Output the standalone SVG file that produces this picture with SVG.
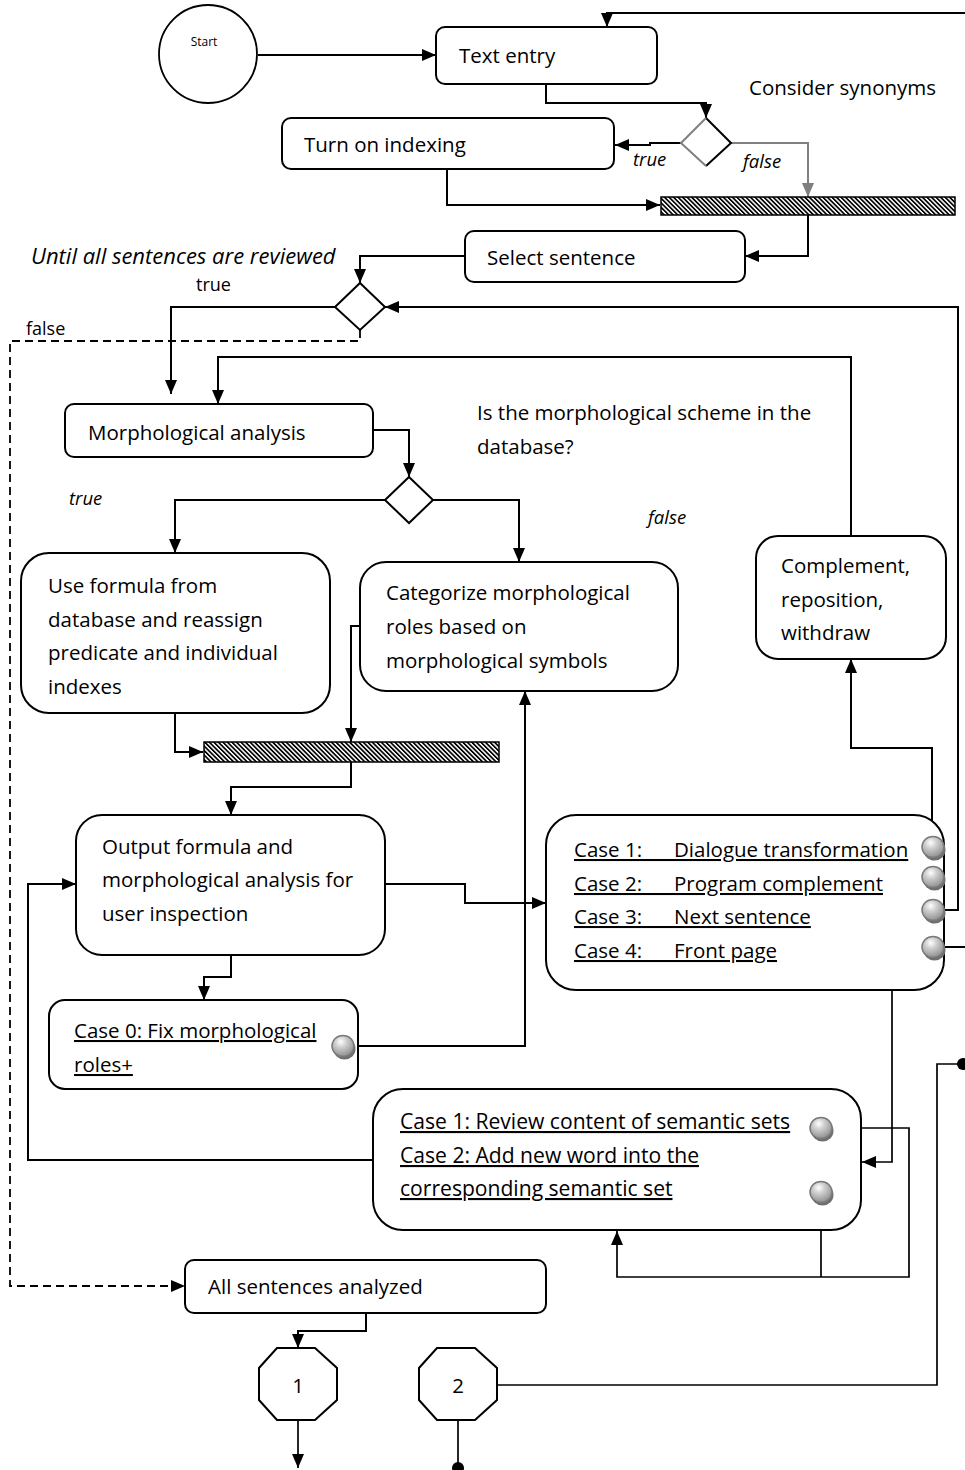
<svg xmlns="http://www.w3.org/2000/svg" xmlns:xlink="http://www.w3.org/1999/xlink" width="965" height="1470" viewBox="0 0 965 1470">
  <style>
    .box { fill: #fff; stroke: #000; stroke-width: 2; }
    .t { font-family: "Open Sans", "Liberation Sans", sans-serif; font-size: 20.5px; fill: #000; }
    .t21 { font-size: 21.1px; }
    .it { font-family: "Open Sans", "Liberation Sans", sans-serif; font-size: 18.5px; font-style: italic; fill: #000; }
    .it-big { font-family: "Open Sans", "Liberation Sans", sans-serif; font-size: 22px; font-style: italic; fill: #000; }
    .sm { font-family: "Open Sans", "Liberation Sans", sans-serif; font-size: 18px; fill: #000; }
    .u { text-decoration: underline; text-decoration-thickness: 2px; }
    .ln { fill: none; stroke: #000; stroke-width: 2; }
    .thin { fill: none; stroke: #000; stroke-width: 1.7; }
    .arr { marker-end: url(#arr); }
    .dash { fill: none; stroke: #000; stroke-width: 1.8; stroke-dasharray: 8 5; }
    .grey { fill: none; stroke: #808080; stroke-width: 2; marker-end: url(#arrGrey); }
    .bar { fill: url(#hatch); stroke: #000; stroke-width: 1.5; }
    .oct { fill: #fff; stroke: #000; stroke-width: 2; }
  </style>
  <defs>
    <marker id="arr" viewBox="0 0 14 12" refX="14" refY="6" markerWidth="14" markerHeight="12" markerUnits="userSpaceOnUse" orient="auto">
      <path d="M0,0 L14,6 L0,12 z" fill="#000"/>
    </marker>
    <marker id="arrGrey" viewBox="0 0 14 12" refX="14" refY="6" markerWidth="14" markerHeight="12" markerUnits="userSpaceOnUse" orient="auto">
      <path d="M0,0 L14,6 L0,12 z" fill="#808080"/>
    </marker>
    <pattern id="hatch" width="3.2" height="3.2" patternUnits="userSpaceOnUse" patternTransform="rotate(-45)">
      <rect width="3.2" height="3.2" fill="#fff"/>
      <rect width="1.7" height="3.2" fill="#000"/>
    </pattern>
    <radialGradient id="ballGrad" cx="40%" cy="30%" r="75%">
      <stop offset="0" stop-color="#ffffff"/>
      <stop offset="0.35" stop-color="#cfcfcf"/>
      <stop offset="1" stop-color="#8a8a8a"/>
    </radialGradient>
    <g id="bullet">
      <ellipse cx="1.5" cy="3" rx="11" ry="10.5" fill="#6f6f6f"/>
      <ellipse cx="0" cy="0" rx="11" ry="10.5" fill="url(#ballGrad)" stroke="#7a7a7a" stroke-width="1.5"/>
    </g>
  </defs>

  <!-- connectors -->
  <g id="connectors">
    <path class="ln arr" d="M258,55 H436"/>
    <path class="ln arr" d="M965,13 H607 V27"/>
    <path class="ln arr" d="M546,84 V103 H706 V118"/>
    <path class="ln arr" d="M681,143 H650 V145 H615"/>
    <path class="grey" d="M731,143 H808 V197"/>
    <path class="ln arr" d="M447,168 V205 H660"/>
    <path class="ln arr" d="M808,215 V256 H745"/>
    <path class="ln arr" d="M465,256 H360 V283"/>
    <path class="ln arr" d="M335,307 H171 V394"/>
    <path class="dash arr" d="M360,330 V341 H10 V1286 H185"/>
    <path class="ln arr" d="M944,910 H958 V307 H385"/>
    <path class="ln arr" d="M851,536 V357 H218 V404"/>
    <path class="ln arr" d="M373,430 H409 V477"/>
    <path class="ln arr" d="M385,500 H175 V553"/>
    <path class="ln arr" d="M433,500 H519 V562"/>
    <path class="ln arr" d="M360,626 H351 V742"/>
    <path class="ln arr" d="M175,713 V752 H203"/>
    <path class="ln arr" d="M351,762 V787 H231 V815"/>
    <path class="ln arr" d="M385,884 H465 V903 H546"/>
    <path class="ln arr" d="M231,955 V977 H204 V1000"/>
    <path class="ln arr" d="M354,1046 H525 V691"/>
    <path class="ln arr" d="M373,1160 H28 V884 H76"/>
    <path class="ln arr" d="M932,836 V748 H851 V659"/>
    <path class="thin arr" d="M922,877 H892 V1162 H862"/>
    <path class="ln" d="M944,947 H965"/>
    <path class="thin arr" d="M832,1128 H909 V1277 H617 V1231"/>
    <path class="thin" d="M821,1203 V1277"/>
    <path class="thin" d="M963,1064 H937 V1385 H497"/>
    <circle cx="963" cy="1064" r="6" fill="#000"/>
    <path class="ln arr" d="M366,1313 V1331 H298 V1348"/>
    <path class="thin arr" d="M298,1420 V1468"/>
    <path class="thin" d="M458,1420 V1466"/>
    <circle cx="458" cy="1468" r="6" fill="#000"/>
  </g>

  <!-- nodes -->
  <g id="start">
    <circle cx="208" cy="54" r="49" fill="#fff" stroke="#000" stroke-width="1.8"/>
    <text x="204" y="46" text-anchor="middle" font-family="Open Sans, Liberation Sans, sans-serif" font-size="12">Start</text>
  </g>

  <g id="text-entry">
    <rect class="box" x="436" y="27" width="221" height="57" rx="9"/>
    <text class="t" x="459" y="63">Text entry</text>
  </g>

  <g id="note-synonyms">
    <text class="t" x="749" y="95">Consider synonyms</text>
  </g>

  <g id="decision-synonyms">
    <polygon points="706,118 731,143 706,166 681,143" fill="#fff" stroke="none"/>
    <path d="M706,118 L731,143 L706,166" fill="none" stroke="#000" stroke-width="2"/>
    <path d="M706,118 L681,143 L706,166" fill="none" stroke="#7f7f7f" stroke-width="2"/>
    <text class="it" x="633" y="166">true</text>
    <text class="it" x="743" y="168">false</text>
  </g>

  <g id="turn-on-indexing">
    <rect class="box" x="282" y="118" width="332" height="51" rx="9"/>
    <text class="t" x="304" y="152">Turn on indexing</text>
  </g>

  <g id="join-top">
    <rect class="bar" x="661" y="197" width="294" height="18"/>
  </g>

  <g id="select-sentence">
    <rect class="box" x="465" y="231" width="280" height="51" rx="9"/>
    <text class="t" x="487" y="265">Select sentence</text>
  </g>

  <g id="decision-sentences">
    <text class="it-big" x="31" y="264">Until all sentences are reviewed</text>
    <polygon points="360,283 385,307 360,330 335,307" fill="#fff" stroke="#000" stroke-width="2"/>
    <text class="sm" x="196" y="291">true</text>
    <text class="sm" x="26" y="335">false</text>
  </g>

  <g id="morphological-analysis">
    <rect class="box" x="65" y="404" width="308" height="53" rx="9"/>
    <text class="t" x="88" y="440">Morphological analysis</text>
  </g>

  <g id="decision-scheme">
    <text class="t" x="477" y="420">Is the morphological scheme in the</text>
    <text class="t" x="477" y="454">database?</text>
    <polygon points="409,477 433,500 409,523 385,500" fill="#fff" stroke="#000" stroke-width="2"/>
    <text class="it" x="69" y="505">true</text>
    <text class="it" x="648" y="524">false</text>
  </g>

  <g id="use-formula">
    <rect class="box" x="21" y="553" width="309" height="160" rx="28"/>
    <text class="t" x="48" y="593">Use formula from</text>
    <text class="t" x="48" y="627">database and reassign</text>
    <text class="t" x="48" y="660">predicate and individual</text>
    <text class="t" x="48" y="694">indexes</text>
  </g>

  <g id="categorize">
    <rect class="box" x="360" y="562" width="318" height="129" rx="26"/>
    <text class="t" x="386" y="600">Categorize morphological</text>
    <text class="t" x="386" y="634">roles based on</text>
    <text class="t" x="386" y="668">morphological symbols</text>
  </g>

  <g id="complement">
    <rect class="box" x="756" y="536" width="190" height="123" rx="22"/>
    <text class="t" x="781" y="573">Complement,</text>
    <text class="t" x="781" y="607">reposition,</text>
    <text class="t" x="781" y="640">withdraw</text>
  </g>

  <g id="join-middle">
    <rect class="bar" x="204" y="742" width="295" height="20"/>
  </g>

  <g id="output">
    <rect class="box" x="76" y="815" width="309" height="140" rx="26"/>
    <text class="t" x="102" y="854">Output formula and</text>
    <text class="t" x="102" y="887">morphological analysis for</text>
    <text class="t" x="102" y="921">user inspection</text>
  </g>

  <g id="cases-dialogue">
    <rect class="box" x="546" y="815" width="398" height="175" rx="30"/>
    <text class="t u" x="574" y="857" xml:space="preserve">Case 1:      Dialogue transformation</text>
    <text class="t u" x="574" y="891" xml:space="preserve">Case 2:      Program complement</text>
    <text class="t u" x="574" y="924" xml:space="preserve">Case 3:      Next sentence</text>
    <text class="t u" x="574" y="958" xml:space="preserve">Case 4:      Front page</text>
    <use xlink:href="#bullet" x="933" y="847"/>
    <use xlink:href="#bullet" x="933" y="877"/>
    <use xlink:href="#bullet" x="933" y="910"/>
    <use xlink:href="#bullet" x="933" y="947"/>
  </g>

  <g id="case-fix-roles">
    <rect class="box" x="49" y="1000" width="309" height="89" rx="16"/>
    <text class="t u" x="74" y="1038">Case 0: Fix morphological</text>
    <text class="t u" x="74" y="1072">roles+</text>
    <use xlink:href="#bullet" x="343" y="1046"/>
  </g>

  <g id="cases-semantic">
    <rect class="box" x="373" y="1089" width="488" height="141" rx="30"/>
    <text class="t t21 u" x="400" y="1129">Case 1: Review content of semantic sets</text>
    <text class="t t21 u" x="400" y="1163">Case 2: Add new word into the</text>
    <text class="t t21 u" x="400" y="1196">corresponding semantic set</text>
    <use xlink:href="#bullet" x="821" y="1128"/>
    <use xlink:href="#bullet" x="821" y="1192"/>
  </g>

  <g id="all-analyzed">
    <rect class="box" x="185" y="1260" width="361" height="53" rx="9"/>
    <text class="t" x="208" y="1294">All sentences analyzed</text>
  </g>

  <g id="connector-1">
    <polygon class="oct" points="277,1348 315,1348 337,1368 337,1400 315,1420 277,1420 259,1400 259,1368"/>
    <text class="t" x="298" y="1393" text-anchor="middle" font-size="22">1</text>
  </g>

  <g id="connector-2">
    <polygon class="oct" points="437,1348 475,1348 497,1368 497,1400 475,1420 437,1420 419,1400 419,1368"/>
    <text class="t" x="458" y="1393" text-anchor="middle" font-size="22">2</text>
  </g>
</svg>
